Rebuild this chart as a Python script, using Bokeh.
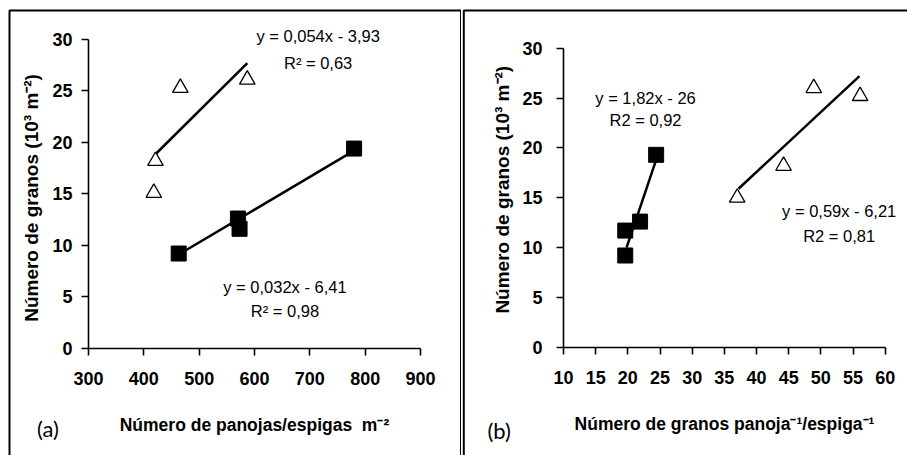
import math
from bokeh.plotting import figure
from bokeh.models import Range1d, FixedTicker, BoxAnnotation, Label, AllLabels
from bokeh.layouts import row
from bokeh.embed import file_html
from bokeh.resources import INLINE

# ---------------- data: panel (a) ----------------
a_sq_x = [463, 570, 573, 780]          # panojas/espigas m-2 (squares)
a_sq_y = [9.2, 12.6, 11.6, 19.4]       # granos (10^3 m-2)
a_tri_x = [418, 421, 466, 587]         # triangles
a_tri_y = [15.1, 18.2, 25.3, 26.1]
a_fit_tri_x = [420, 587]
a_fit_tri_y = [18.8, 27.7]
a_fit_sq_x = [463, 780]
a_fit_sq_y = [9.1, 19.2]
a_xticks = [300, 400, 500, 600, 700, 800, 900]
a_yticks = [0, 5, 10, 15, 20, 25, 30]
a_eq_tri = ["y = 0,054x - 3,93", "R² = 0,63"]
a_eq_sq = ["y = 0,032x - 6,41", "R² = 0,98"]

# ---------------- data: panel (b) ----------------
b_sq_x = [19.6, 21.9, 19.6, 24.4]      # granos panoja-1/espiga-1 (squares)
b_sq_y = [9.2, 12.6, 11.7, 19.3]
b_tri_x = [37.0, 44.2, 48.9, 56.1]
b_tri_y = [15.0, 18.2, 26.0, 25.2]
b_fit_sq_x = [19.8, 24.4]
b_fit_sq_y = [10.0, 18.8]
b_fit_tri_x = [37.2, 56.0]
b_fit_tri_y = [15.9, 27.2]
b_xticks = [10, 15, 20, 25, 30, 35, 40, 45, 50, 55, 60]
b_yticks = [0, 5, 10, 15, 20, 25, 30]
b_eq_sq = ["y = 1,82x - 26", "R2 = 0,92"]
b_eq_tri = ["y = 0,59x - 6,21", "R2 = 0,81"]

YLABEL = "Número de granos (10³ m⁻²)"
XLABEL_A = "Número de panojas/espigas\u00a0\u00a0m⁻²"
XLABEL_B = "Número de granos panoja⁻¹/espiga⁻¹"

FONT = "Liberation Sans"


def style_axis(ax):
    ax.axis_line_color = "black"
    ax.axis_line_width = 1.6
    ax.major_tick_line_color = "black"
    ax.major_tick_line_width = 1.6
    ax.major_tick_in = 0
    ax.major_tick_out = 7
    ax.minor_tick_line_color = None
    ax.major_label_policy = AllLabels()
    ax.major_label_text_font = FONT
    ax.major_label_text_font_style = "bold"
    ax.major_label_text_font_size = "18px"
    ax.major_label_text_color = "black"
    ax.axis_label_text_font = FONT
    ax.axis_label_text_font_style = "bold"
    ax.axis_label_text_font_size = "17.5px"
    ax.axis_label_text_color = "black"


def style_axes(p, xticks, yticks, x0, y0):
    p.xgrid.visible = False
    p.ygrid.visible = False
    p.outline_line_color = None
    p.xaxis.ticker = FixedTicker(ticks=xticks)
    p.yaxis.ticker = FixedTicker(ticks=yticks)
    p.xaxis.fixed_location = y0
    p.yaxis.fixed_location = x0
    p.xaxis.bounds = (xticks[0], xticks[-1])
    p.yaxis.bounds = (yticks[0], yticks[-1])
    for ax in (p.xaxis[0], p.yaxis[0]):
        style_axis(ax)
    p.xaxis.major_label_standoff = 17
    p.yaxis.major_label_standoff = 9


def add_eq(p, lines, x, y1, y2):
    for t, yy in zip(lines, (y1, y2)):
        p.add_layout(Label(x=x, y=yy, text=t, text_align="center",
                           text_baseline="alphabetic", text_font=FONT,
                           text_font_size="16.5px", text_color="black"))


def add_ylabel(p, x, y):
    p.add_layout(Label(x=x, y=y, text=YLABEL, angle=math.pi / 2,
                       text_align="center", text_baseline="middle",
                       text_font=FONT, text_font_style="bold",
                       text_font_size="19px", text_color="black"))


def add_frame(p, left, top):
    p.add_layout(BoxAnnotation(left=left, right=left + 451.5, top=top, bottom=600,
                               left_units="canvas", right_units="canvas",
                               top_units="canvas", bottom_units="canvas",
                               fill_alpha=0, line_color="black", line_alpha=1.0,
                               line_width=2))


def make_fig(w, xr, yr):
    return figure(width=w, height=455, output_backend="svg", toolbar_location=None,
                  x_range=Range1d(*xr), y_range=Range1d(*yr),
                  min_border=0, min_border_left=0, min_border_right=0,
                  min_border_top=0, min_border_bottom=0,
                  background_fill_color="white", border_fill_color="white")


# ---------------- panel (a) ----------------
pa = make_fig(461, (140.96, 974.1), (-10.43, 33.79))
style_axes(pa, a_xticks, a_yticks, 300, 0)
pa.xaxis.axis_label = XLABEL_A
pa.xaxis.axis_label_standoff = 26
add_ylabel(pa, 196.5, 14.6)

pa.line(a_fit_tri_x, a_fit_tri_y, line_color="black", line_width=2.5)
pa.line(a_fit_sq_x, a_fit_sq_y, line_color="black", line_width=2.5)
pa.scatter(a_sq_x, a_sq_y, marker="square", size=15, fill_color="black",
           line_color="black")
pa.scatter(a_tri_x, a_tri_y, marker="triangle", size=15.5, fill_color="white",
           line_color="black", line_width=1.3)
add_eq(pa, a_eq_tri, 715, 30.34, 27.76)
add_eq(pa, a_eq_sq, 655, 5.9, 3.66)
pa.add_layout(Label(x=226.8, y=-7.85, text="(a)", text_align="center",
                    text_baseline="middle", text_font="Lato",
                    text_font_size="22px", text_color="black"))
add_frame(pa, 9, 10)

# ---------------- panel (b) ----------------
pb = make_fig(446, (-5.853, 63.466), (-10.866, 34.785))
style_axes(pb, b_xticks, b_yticks, 10, 0)
pb.xaxis.axis_label = XLABEL_B
pb.xaxis.axis_label_standoff = 26
pb.yaxis.major_label_standoff = 14
add_ylabel(pb, 0.55, 15.8)

pb.line(b_fit_tri_x, b_fit_tri_y, line_color="black", line_width=2.5)
pb.line(b_fit_sq_x, b_fit_sq_y, line_color="black", line_width=2.5)
pb.scatter(b_sq_x, b_sq_y, marker="square", size=15, fill_color="black",
           line_color="black")
pb.scatter(b_tri_x, b_tri_y, marker="triangle", size=15.5, fill_color="white",
           line_color="black", line_width=1.3)
add_eq(pb, b_eq_sq, 22.75, 25.0, 22.8)
add_eq(pb, b_eq_tri, 52.85, 13.7, 11.2)
pb.add_layout(Label(x=0.0, y=-8.36, text="(b)", text_align="center",
                    text_baseline="middle", text_font="Lato",
                    text_font_size="22px", text_color="black"))
add_frame(pb, 2.3, 10)

layout = row(pa, pb, spacing=0)
open("out.html", "w").write(file_html(layout, INLINE))
